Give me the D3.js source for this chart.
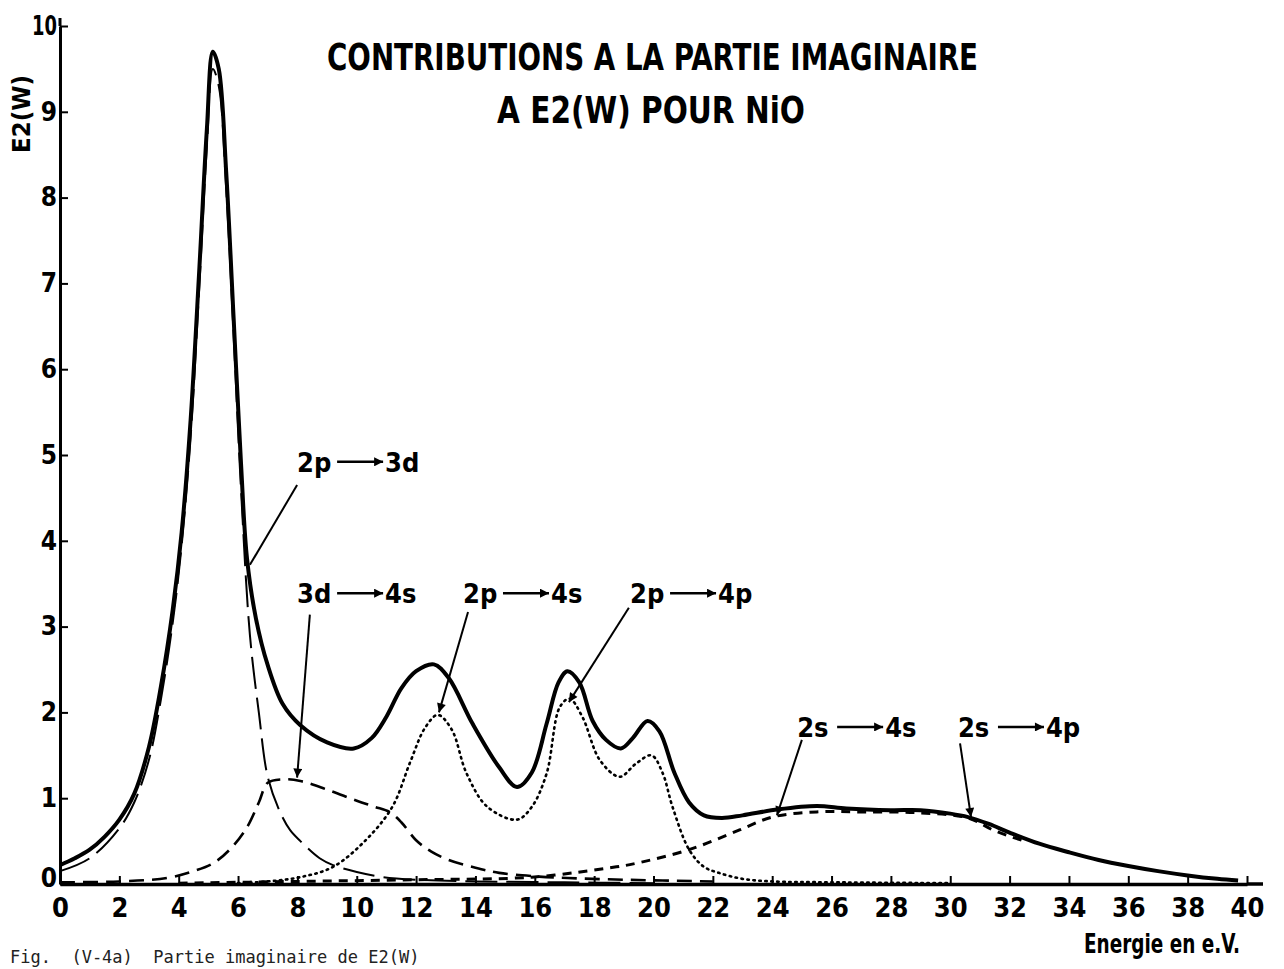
<!DOCTYPE html>
<html lang="fr">
<head>
    <meta charset="utf-8">
    <title>Contributions a la partie imaginaire</title>
    <script src="https://d3js.org/d3.v7.min.js"></script>
    <style>
        body { margin: 0; background: #fff; }
        svg { display: block; }
        .bold { font-family: "DejaVu Sans Condensed", "Liberation Sans Narrow", "Roboto Condensed", "Liberation Sans", sans-serif; font-weight: bold; fill: #000; }
    </style>
</head>
<body>
    <div id="chart"></div>

    <script>
        // Total E2(W) (solid)
        const total = [[0,0.22],[0.5,0.3],[1,0.4],[1.5,0.55],[2,0.75],[2.5,1.05],[3,1.6],[3.4,2.3],[3.8,3.2],[4.1,4.1],
            [4.4,5.4],[4.7,7.2],[4.95,8.8],[5.15,9.7],[5.35,9.5],[5.6,8.3],[5.85,6.6],[6.1,4.9],[6.3,3.8],[6.6,3.1],
            [7,2.55],[7.5,2.1],[8.1,1.85],[9,1.65],[9.9,1.58],[10.5,1.7],[11,1.95],[11.5,2.28],[12,2.48],[12.6,2.56],
            [13.1,2.4],[13.9,1.87],[14.8,1.36],[15.4,1.13],[15.9,1.3],[16.4,1.87],[16.8,2.35],[17.1,2.48],[17.5,2.35],
            [17.95,1.9],[18.4,1.68],[18.9,1.58],[19.3,1.7],[19.8,1.9],[20.2,1.78],[20.7,1.3],[21.2,0.95],[21.7,0.8],
            [22.3,0.77],[23,0.8],[24.2,0.87],[25.5,0.91],[26.5,0.88],[28,0.86],[29,0.86],[30,0.82],[30.6,0.78],
            [31.3,0.7],[32,0.6],[33,0.47],[34,0.37],[35,0.28],[36,0.21],[37,0.15],[38,0.1],[39,0.06],[39.7,0.04]];

        // 2p -> 3d (long dashes)
        const p2d3 = [[0,0.15],[1,0.3],[2,0.65],[2.5,0.95],[3,1.45],[3.4,2.15],[3.8,3.05],[4.1,3.95],[4.4,5.2],
            [4.7,7.0],[4.95,8.6],[5.15,9.5],[5.35,9.3],[5.6,8.1],[5.85,6.4],[6.1,4.6],[6.4,2.9],[6.7,2.0],[7,1.25],
            [7.4,0.85],[7.75,0.63],[8.1,0.5],[8.75,0.3],[9.2,0.22],[10,0.14],[10.9,0.08],[12,0.05],[14,0.03],
            [17,0.02],[20,0.01]];

        // 3d -> 4s (dashes)
        const d3s4 = [[0,0.02],[2,0.03],[3.6,0.07],[4.5,0.15],[5.2,0.25],[5.8,0.43],[6.3,0.66],[6.7,0.95],[7,1.18],
            [7.5,1.22],[8.1,1.2],[9,1.1],[10,0.97],[10.6,0.9],[11.1,0.84],[11.5,0.72],[12,0.51],[12.5,0.38],
            [13.1,0.28],[14,0.19],[14.8,0.13],[16,0.09],[17.1,0.07],[19,0.05],[22,0.03]];

        // 2p -> 4s, 4p (dotted)
        const p2s4p = [[6,0.01],[7,0.03],[8.1,0.08],[9.2,0.2],[10.3,0.51],[11.2,0.9],[11.8,1.42],[12.3,1.82],
            [12.73,1.97],[13.2,1.8],[13.7,1.29],[14.4,0.9],[15.4,0.75],[15.9,0.9],[16.4,1.29],[16.84,2.06],
            [17.17,2.16],[17.6,1.95],[18.2,1.44],[18.86,1.25],[19.4,1.4],[19.93,1.5],[20.3,1.3],[20.64,0.9],
            [21.2,0.4],[21.7,0.2],[22.2,0.13],[23,0.06],[24,0.03],[26,0.02],[30,0.01]];

        // 2s -> 4s, 4p (short dashes)
        const s2s4p = [[4,0.01],[8,0.03],[12,0.05],[15.9,0.08],[18.75,0.2],[19.4,0.24],[21.2,0.4],[22.9,0.63],
            [24,0.78],[25.5,0.84],[27,0.84],[28.9,0.83],[30.6,0.77],[31.5,0.62],[32.5,0.5]];

        const xTicks = d3.range(0, 41, 2);
        const yTicks = d3.range(0, 11, 1);

        // annotation labels: text anchor and leader line, in data units
        const notes = [
            { a: "2p", b: "3d", x: 7.99, y: 4.92, from: [7.99, 4.65], to: [6.40, 3.72], head: false },
            { a: "3d", b: "4s", x: 7.99, y: 3.39, from: [8.42, 3.14], to: [7.99, 1.24], head: true },
            { a: "2p", b: "4s", x: 13.58, y: 3.39, from: [13.75, 3.17], to: [12.77, 2.0], head: true },
            { a: "2p", b: "4p", x: 19.21, y: 3.39, from: [19.17, 3.22], to: [17.15, 2.12], head: true },
            { a: "2s", b: "4s", x: 24.84, y: 1.83, from: [25.0, 1.68], to: [24.16, 0.8], head: true },
            { a: "2s", b: "4p", x: 30.26, y: 1.83, from: [30.33, 1.64], to: [30.7, 0.78], head: true }
        ];

        const width = 1284;
        const height = 969;

        const svg = d3.select("#chart")
            .append("svg")
            .attr("width", width)
            .attr("height", height);

        const x = d3.scaleLinear().domain([0, 40]).range([60, 1247]);
        const y = d3.scaleLinear().domain([0, 10]).range([884, 26]);

        // arrow heads
        const defs = svg.append("defs");
        defs.append("marker")
            .attr("id", "head")
            .attr("viewBox", "0 0 10 10")
            .attr("refX", 10).attr("refY", 5)
            .attr("markerWidth", 12).attr("markerHeight", 9)
            .attr("markerUnits", "userSpaceOnUse")
            .attr("orient", "auto")
            .append("path").attr("d", "M0,0 L10,5 L0,10 Z").attr("fill", "#000");

        // x axis
        const gx = svg.append("g")
            .attr("transform", `translate(0,${y(0)})`)
            .call(d3.axisBottom(x).tickValues(xTicks).tickSizeInner(-8).tickSizeOuter(0).tickPadding(14));
        gx.select(".domain").attr("stroke-width", 3.5);
        gx.selectAll(".tick line").attr("stroke-width", 2);
        gx.selectAll(".tick text")
            .attr("class", "bold")
            .attr("font-size", 27)
            .attr("dy", "0.72em");
        gx.append("line")
            .attr("x1", x(40)).attr("x2", x(40) + 16)
            .attr("stroke", "#000").attr("stroke-width", 3.5);

        // y axis
        const gy = svg.append("g")
            .attr("transform", `translate(${x(0)},0)`)
            .call(d3.axisLeft(y).tickValues(yTicks).tickSizeInner(-8).tickSizeOuter(0).tickPadding(3));
        gy.select(".domain").attr("stroke-width", 3);
        gy.selectAll(".tick line").attr("stroke-width", 2);
        gy.selectAll(".tick text")
            .attr("class", "bold")
            .attr("font-size", 26);
        gy.selectAll(".tick")
            .filter(d => d === 10)
            .select("text")
            .attr("textLength", 25)
            .attr("lengthAdjust", "spacingAndGlyphs");
        gy.selectAll(".tick")
            .filter(d => d === 0)
            .select("text")
            .attr("dy", "0.1em");
        gy.append("line")
            .attr("y1", y(10)).attr("y2", y(10) - 8)
            .attr("stroke", "#000").attr("stroke-width", 3);

        // curves
        const line = d3.line()
            .x(d => x(d[0]))
            .y(d => y(d[1]))
            .curve(d3.curveCatmullRom.alpha(0.5));

        const series = [
            { data: s2s4p, w: 3, dash: "9,7" },
            { data: p2s4p, w: 2.6, dash: "1.5,4.5" },
            { data: d3s4, w: 2.6, dash: "15,8" },
            { data: p2d3, w: 2, dash: "32,9" },
            { data: total, w: 4, dash: null }
        ];

        svg.selectAll("path.curve")
            .data(series)
            .enter()
            .append("path")
            .attr("class", "curve")
            .attr("d", d => line(d.data))
            .attr("fill", "none")
            .attr("stroke", "#000")
            .attr("stroke-width", d => d.w)
            .attr("stroke-linecap", d => d.dash && d.dash.startsWith("1.5") ? "round" : "butt")
            .attr("stroke-linejoin", "round")
            .attr("stroke-dasharray", d => d.dash);

        // annotations
        const note = svg.selectAll("g.note")
            .data(notes)
            .enter()
            .append("g")
            .attr("class", "note")
            .attr("transform", d => `translate(${x(d.x)},${y(d.y)})`);

        note.append("text")
            .attr("class", "bold")
            .attr("font-size", 27)
            .attr("dy", "0.36em")
            .text(d => d.a);

        note.append("line")
            .attr("x1", 40).attr("x2", 86)
            .attr("stroke", "#000").attr("stroke-width", 2.5)
            .attr("marker-end", "url(#head)");

        note.append("text")
            .attr("class", "bold")
            .attr("font-size", 27)
            .attr("x", 88)
            .attr("dy", "0.36em")
            .text(d => d.b);

        svg.selectAll("line.leader")
            .data(notes)
            .enter()
            .append("line")
            .attr("class", "leader")
            .attr("x1", d => x(d.from[0])).attr("y1", d => y(d.from[1]))
            .attr("x2", d => x(d.to[0])).attr("y2", d => y(d.to[1]))
            .attr("stroke", "#000").attr("stroke-width", 2)
            .attr("marker-end", d => d.head ? "url(#head)" : null);

        // titles
        svg.append("text")
            .attr("class", "bold")
            .attr("x", 327).attr("y", 70)
            .attr("font-size", 38)
            .attr("textLength", 651).attr("lengthAdjust", "spacingAndGlyphs")
            .text("CONTRIBUTIONS A  LA PARTIE IMAGINAIRE");

        svg.append("text")
            .attr("class", "bold")
            .attr("x", 497).attr("y", 123)
            .attr("font-size", 38)
            .attr("textLength", 308).attr("lengthAdjust", "spacingAndGlyphs")
            .text("A  E2(W) POUR NiO");

        svg.append("text")
            .attr("class", "bold")
            .attr("transform", "translate(30,153) rotate(-90)")
            .attr("font-size", 25)
            .attr("textLength", 78).attr("lengthAdjust", "spacingAndGlyphs")
            .text("E2(W)");

        svg.append("text")
            .attr("class", "bold")
            .attr("x", 1084).attr("y", 953)
            .attr("font-size", 26)
            .attr("textLength", 156).attr("lengthAdjust", "spacingAndGlyphs")
            .text("Energie en  e.V.");

        svg.append("text")
            .attr("x", 10).attr("y", 963)
            .attr("font-family", "'DejaVu Sans Mono', 'Liberation Mono', monospace")
            .attr("font-size", 17)
            .attr("fill", "#222")
            .attr("xml:space", "preserve")
            .text("Fig.  (V-4a)  Partie imaginaire de E2(W)");
    </script>
</body>
</html>
